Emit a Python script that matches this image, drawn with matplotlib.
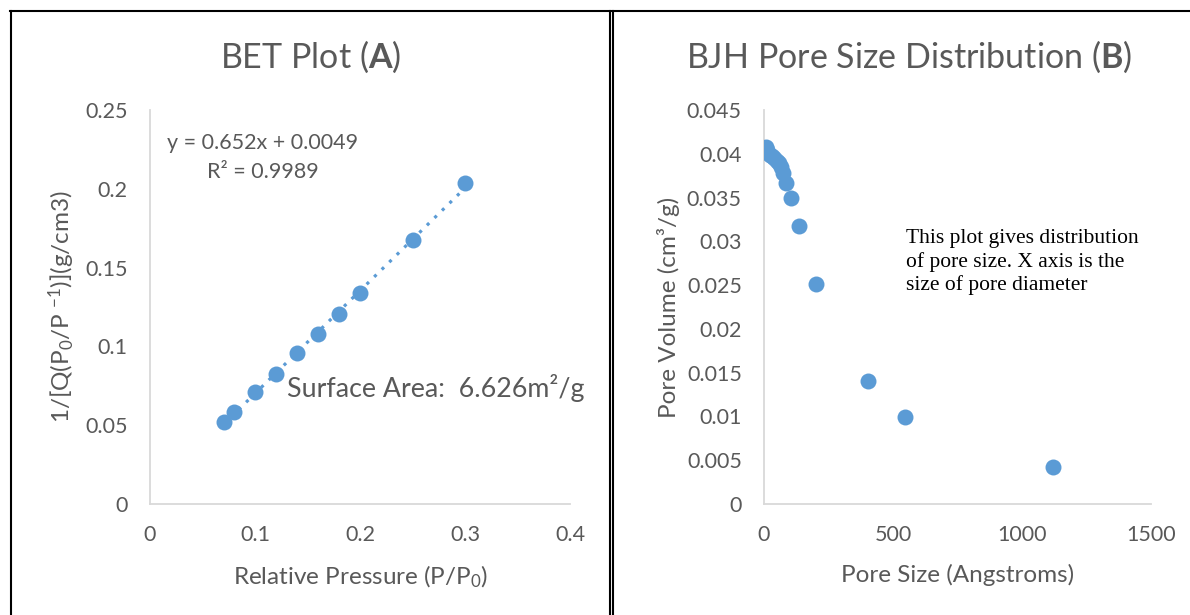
import matplotlib.pyplot as plt
from matplotlib.lines import Line2D

# BET data (A)
rel_pressure = [0.07, 0.08, 0.10, 0.12, 0.14, 0.16, 0.18, 0.20, 0.25, 0.30]
bet_y = [0.0518, 0.0586, 0.0713, 0.0827, 0.0956, 0.1079, 0.1203, 0.1340, 0.1673, 0.2039]
slope = 0.652
intercept = 0.0049

# BJH data (B)
pore_size = [8, 12, 16, 22, 30, 40, 50, 58, 65, 75, 84, 105, 137, 203, 404, 546, 1120]
pore_vol = [0.0408, 0.0404, 0.0401, 0.0399, 0.0397, 0.0395, 0.0392, 0.0389, 0.0385,
            0.0378, 0.0367, 0.0349, 0.0318, 0.0251, 0.0140, 0.0099, 0.0042]

bet_xticks = [0, 0.1, 0.2, 0.3, 0.4]
bet_xticklabels = ['0', '0.1', '0.2', '0.3', '0.4']
bet_yticks = [0, 0.05, 0.1, 0.15, 0.2, 0.25]
bet_yticklabels = ['0', '0.05', '0.1', '0.15', '0.2', '0.25']
bjh_xticks = [0, 500, 1000, 1500]
bjh_xticklabels = ['0', '500', '1000', '1500']
bjh_yticks = [0, 0.005, 0.01, 0.015, 0.02, 0.025, 0.03, 0.035, 0.04, 0.045]
bjh_yticklabels = ['0', '0.005', '0.01', '0.015', '0.02', '0.025', '0.03', '0.035', '0.04', '0.045']

plt.rcParams['font.family'] = ['Lato', 'DejaVu Sans']
plt.rcParams['mathtext.fontset'] = 'custom'
plt.rcParams['mathtext.rm'] = 'Lato'
plt.rcParams['mathtext.it'] = 'Lato:italic'
plt.rcParams['mathtext.bf'] = 'Lato:bold'

W, H = 1190, 615
blue = '#5B9BD5'
grey = '#595959'
axis_grey = '#D9D9D9'

fig = plt.figure(figsize=(W / 100, H / 100), dpi=100)


def fx(px):
    return px / W


def fy(py):
    return 1 - py / H


def style_axes(ax):
    for side in ['top', 'right']:
        ax.spines[side].set_visible(False)
    for side in ['left', 'bottom']:
        ax.spines[side].set_color(axis_grey)
        ax.spines[side].set_linewidth(1.3)
    ax.tick_params(length=0, labelsize=15.5, colors=grey)
    ax.tick_params(axis='x', pad=15)
    ax.tick_params(axis='y', pad=16)


# left panel
ax1 = fig.add_axes([fx(150), fy(504), fx(570) - fx(150), fy(110) - fy(504)])
style_axes(ax1)
ax1.scatter(rel_pressure, bet_y, s=11.5 ** 2, color=blue, zorder=3, linewidths=0)
fit_x = [rel_pressure[0], rel_pressure[-1]]
fit_y = [slope * v + intercept for v in fit_x]
ax1.plot(fit_x, fit_y, color=blue, lw=2.3, linestyle=(0, (1, 2.3)), zorder=2)
ax1.set_xlim(0, 0.4)
ax1.set_ylim(0, 0.25)
ax1.set_xticks(bet_xticks)
ax1.set_xticklabels(bet_xticklabels)
ax1.set_yticks(bet_yticks)
ax1.set_yticklabels(bet_yticklabels)
ax1.set_xlabel(r'Relative Pressure (P/P$_0$)', fontsize=17.5, color=grey, labelpad=14)
ax1.set_ylabel(r'1/[Q(P$_0$/P $^{-1}$)](g/cm3)', fontsize=17.5, color=grey, labelpad=6)
fig.text(fx(311), fy(57), r'BET Plot ($\mathbf{A}$)', fontsize=24.5, color=grey,
         ha='center', va='center')
fig.text(fx(167), fy(143), 'y = 0.652x + 0.0049', fontsize=15.5, color=grey,
         ha='left', va='center')
fig.text(fx(207), fy(172), 'R² = 0.9989', fontsize=15.5, color=grey,
         ha='left', va='center')
fig.text(fx(287), fy(388), 'Surface Area:  6.626m²/g', fontsize=19.3, color=grey,
         ha='left', va='center')

# right panel
ax2 = fig.add_axes([fx(764), fy(504), fx(1151) - fx(764), fy(110) - fy(504)])
style_axes(ax2)
ax2.scatter(pore_size, pore_vol, s=11.5 ** 2, color=blue, zorder=3, linewidths=0)
ax2.set_xlim(0, 1500)
ax2.set_ylim(0, 0.045)
ax2.set_xticks(bjh_xticks)
ax2.set_xticklabels(bjh_xticklabels)
ax2.set_yticks(bjh_yticks)
ax2.set_yticklabels(bjh_yticklabels)
ax2.set_xlabel('Pore Size (Angstroms)', fontsize=17.5, color=grey, labelpad=14)
ax2.set_ylabel('Pore Volume (cm³/g)', fontsize=17.5, color=grey, labelpad=5)
fig.text(fx(909), fy(57), r'BJH Pore Size Distribution ($\mathbf{B}$)', fontsize=24.5,
         color=grey, ha='center', va='center')
fig.text(fx(906), fy(262), 'This plot gives distribution\nof pore size. X axis is the\nsize of pore diameter',
         fontsize=15.5, family=['Liberation Serif'], color='black', ha='left', va='center',
         linespacing=1.25)

# panel frames
frame = dict(color='black', transform=fig.transFigure)
fig.add_artist(Line2D([fx(10), fx(1190)], [fy(11), fy(11)], lw=1.5, **frame))
fig.add_artist(Line2D([fx(10.5), fx(10.5)], [fy(11), fy(615)], lw=1.5, **frame))
fig.add_artist(Line2D([fx(609.5), fx(609.5)], [fy(11), fy(615)], lw=1.5, **frame))
fig.add_artist(Line2D([fx(613), fx(613)], [fy(11), fy(615)], lw=1.5, **frame))

fig.savefig('out.png', dpi=100)
